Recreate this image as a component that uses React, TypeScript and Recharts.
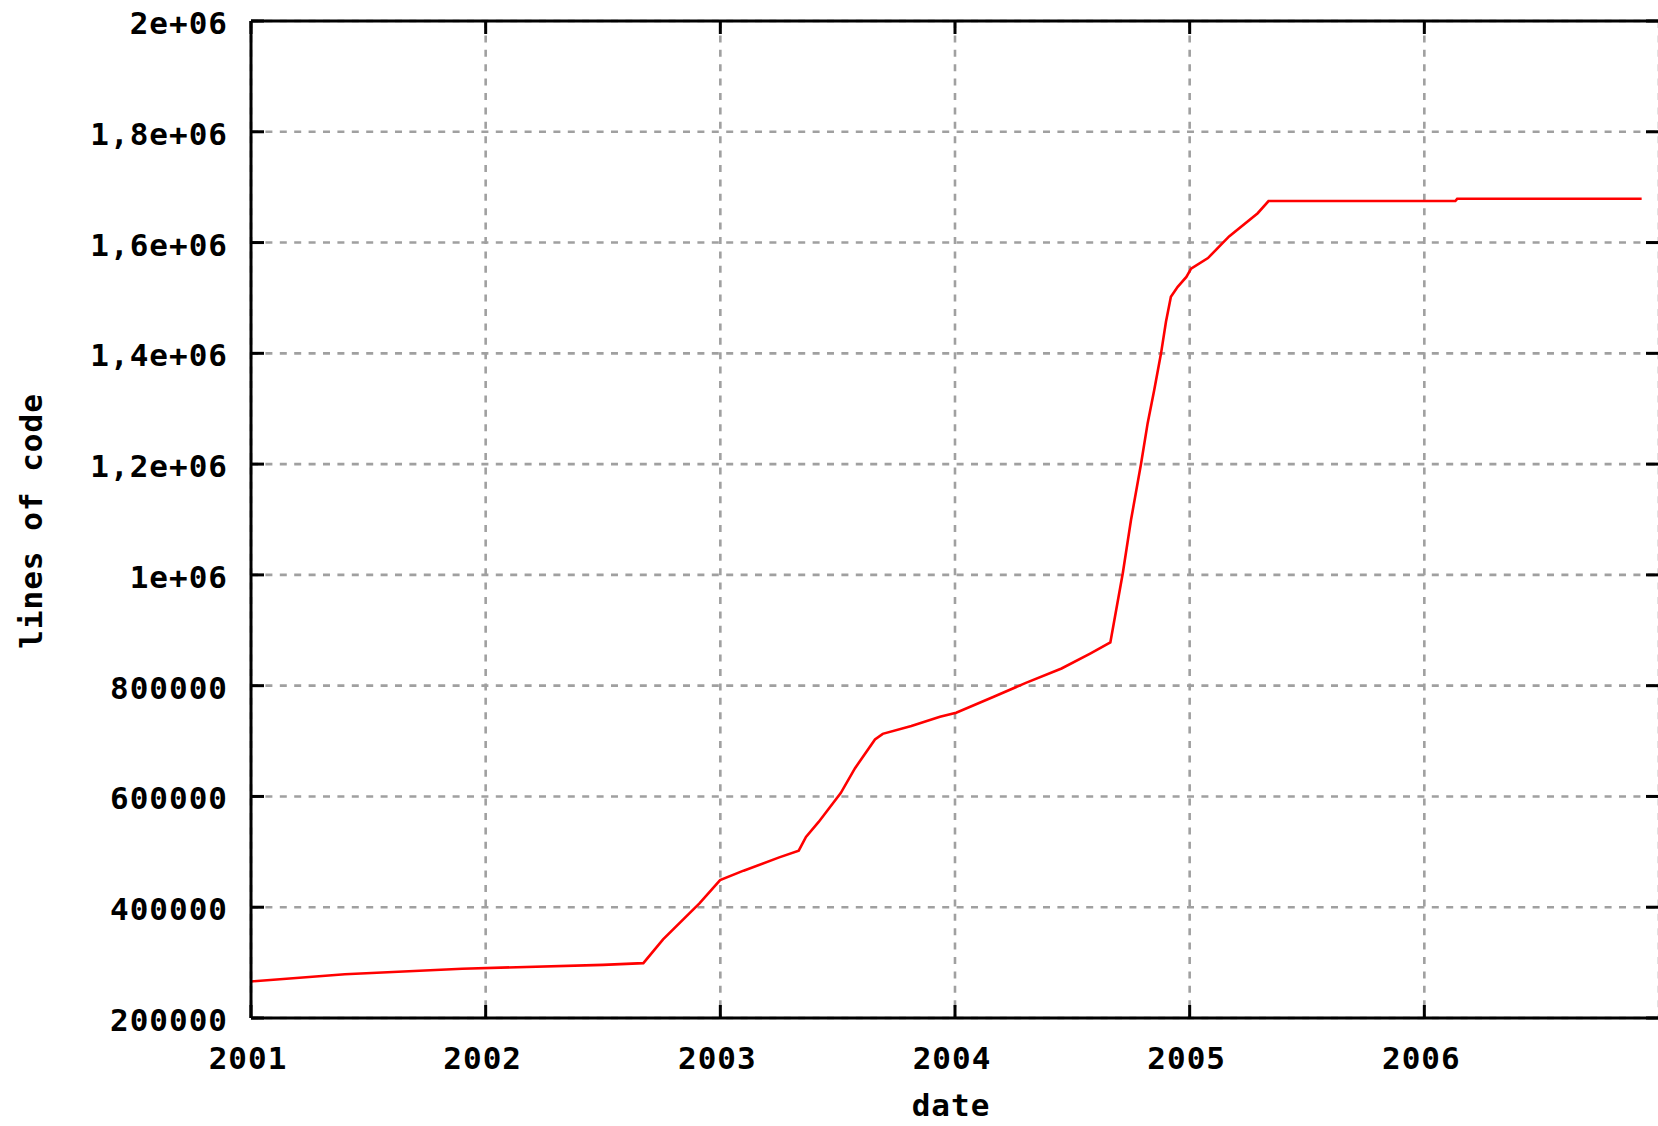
import { LineChart, Line, XAxis, YAxis, CartesianGrid, ReferenceLine, Label } from 'recharts';

// sampled dates (fractional years) and total lines of code at each one
const dates = [
  2001.0, 2001.4, 2001.9, 2002.5, 2002.672, 2002.756, 2002.911, 2002.999,
  2003.099, 2003.251, 2003.334, 2003.365, 2003.419, 2003.513, 2003.574, 2003.659,
  2003.692, 2003.814, 2003.936, 2004.005, 2004.165, 2004.302, 2004.454, 2004.576,
  2004.662, 2004.679, 2004.715, 2004.75, 2004.793, 2004.821, 2004.849, 2004.878,
  2004.899, 2004.92, 2004.949, 2004.986, 2005.006, 2005.078, 2005.168, 2005.29,
  2005.336, 2006.132, 2006.14, 2006.926,
];

const linesOfCode = [
  266000, 279000, 289000, 296000, 299000, 342000, 407000, 449000,
  466000, 490000, 502000, 527000, 554000, 606000, 651000, 703000,
  713000, 727000, 744000, 751000, 780000, 805000, 831000, 858000,
  878000, 918000, 1003000, 1099000, 1201000, 1274000, 1334000, 1400000,
  1457000, 1502000, 1520000, 1538000, 1553000, 1572000, 1611000, 1653000,
  1675000, 1675000, 1679000, 1679000,
];

const yearTicks = [2001, 2002, 2003, 2004, 2005, 2006];
const yearLabels = ['2001', '2002', '2003', '2004', '2005', '2006'];

const locTicks = [200000, 400000, 600000, 800000, 1000000, 1200000, 1400000, 1600000, 1800000, 2000000];
const locLabels = ['200000', '400000', '600000', '800000', '1e+06', '1,2e+06', '1,4e+06', '1,6e+06', '1,8e+06', '2e+06'];

const data = dates.map((d, i) => ({ date: d, loc: linesOfCode[i] }));

const CHART_W = 1661;
const CHART_H = 1126;
const LEFT = 251;
const TOP = 21;
const BOTTOM = 108;
const RIGHT = 2;
const PLOT_W = CHART_W - LEFT - RIGHT;
const PLOT_H = CHART_H - TOP - BOTTOM;
const TICK_LEN = 13;

const FONT = "'DejaVu Sans Mono', 'Liberation Mono', monospace";
const textStyle = { fontFamily: FONT, fontWeight: 700, fontSize: 31, letterSpacing: 1, fill: '#000' };

function YTick({ x, y, payload }: any) {
  const idx = locTicks.indexOf(payload.value);
  return (
    <g>
      <line x1={x} y1={y} x2={x + TICK_LEN} y2={y} stroke="#000" strokeWidth={3} />
      <line x1={x + PLOT_W - TICK_LEN} y1={y} x2={x + PLOT_W} y2={y} stroke="#000" strokeWidth={3} />
      <text x={x - 23} y={y + 2} textAnchor="end" dominantBaseline="central" style={textStyle}>
        {idx >= 0 ? locLabels[idx] : payload.value}
      </text>
    </g>
  );
}

function XTick({ x, y, payload }: any) {
  const idx = yearTicks.indexOf(payload.value);
  return (
    <g>
      <line x1={x} y1={y} x2={x} y2={y - TICK_LEN} stroke="#000" strokeWidth={3} />
      <line x1={x} y1={y - PLOT_H} x2={x} y2={y - PLOT_H + TICK_LEN} stroke="#000" strokeWidth={3} />
      <text x={x - 3} y={y + 40} textAnchor="middle" dominantBaseline="central" style={textStyle}>
        {idx >= 0 ? yearLabels[idx] : payload.value}
      </text>
    </g>
  );
}

export default function App() {
  return (
    <div style={{ position: 'absolute', left: 0, top: 0, width: 1658, height: 1126, overflow: 'hidden', background: '#fff' }}>
      <LineChart width={CHART_W} height={CHART_H} data={data} margin={{ top: TOP, right: RIGHT, bottom: 0, left: 0 }}>
        <CartesianGrid stroke="#a0a0a0" strokeWidth={2.6} strokeDasharray="7 7.4" />
        <XAxis
          dataKey="date"
          type="number"
          domain={[2001, 2007]}
          ticks={yearTicks}
          interval={0}
          height={BOTTOM}
          tickSize={0}
          tickMargin={0}
          tickLine={false}
          axisLine={{ stroke: '#000', strokeWidth: 3 }}
          tick={<XTick />}
        >
          <Label
            content={() => (
              <text x={951} y={1116} textAnchor="middle" style={textStyle}>
                date
              </text>
            )}
          />
        </XAxis>
        <YAxis
          type="number"
          domain={[200000, 2000000]}
          ticks={locTicks}
          interval={0}
          width={LEFT}
          tickSize={0}
          tickMargin={0}
          tickLine={false}
          axisLine={{ stroke: '#000', strokeWidth: 3 }}
          tick={<YTick />}
        >
          <Label
            content={() => (
              <text x={42} y={521} textAnchor="middle" transform="rotate(-90 42 521)" style={textStyle}>
                lines of code
              </text>
            )}
          />
        </YAxis>
        <ReferenceLine y={2000000} stroke="#000" strokeWidth={3} />
        <Line type="linear" dataKey="loc" stroke="#ff0000" strokeWidth={2.6} dot={false} isAnimationActive={false} />
      </LineChart>
    </div>
  );
}
